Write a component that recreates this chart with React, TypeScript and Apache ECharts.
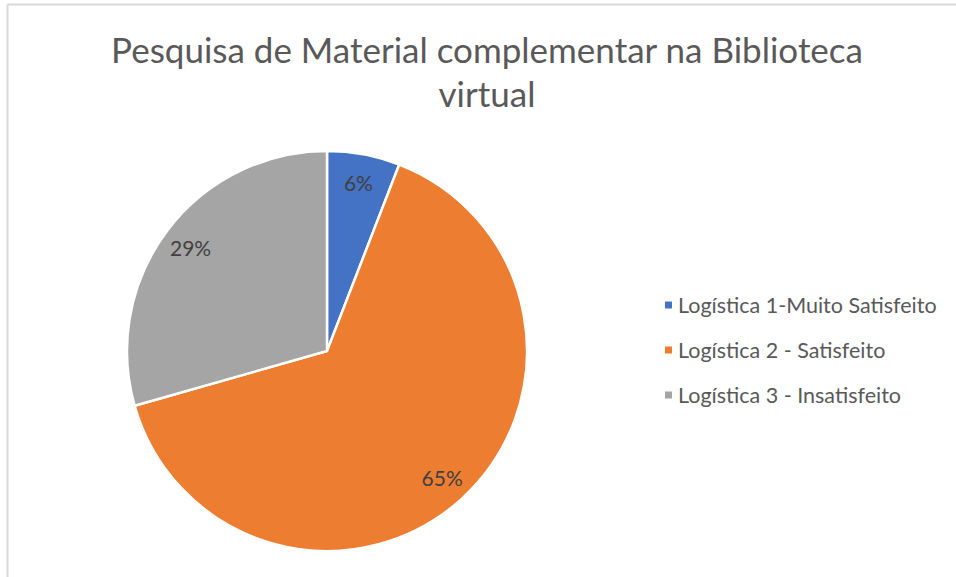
import React, { useEffect, useRef } from "react";
import * as echarts from "echarts";

const titleText = "Pesquisa de Material complementar na Biblioteca\nvirtual";
const categories = [
  "Logística 1-Muito Satisfeito",
  "Logística 2 - Satisfeito",
  "Logística 3 - Insatisfeito",
];
const values = [2, 22, 10];
const colors = ["#4472C4", "#ED7D31", "#A5A5A5"];

const FONT = "Lato";

export default function App() {
  const ref = useRef<HTMLDivElement>(null);
  useEffect(() => {
    if (!ref.current) return;
    const chart = echarts.init(ref.current, undefined, { renderer: "svg" });
    const data = categories.map((name, i) => ({
      name,
      value: values[i],
      itemStyle: { color: colors[i] },
    }));
    chart.setOption({
      animation: false,
      backgroundColor: "#ffffff",
      title: {
        text: titleText,
        left: 482,
        top: 22,
        textAlign: "center",
        textStyle: {
          fontFamily: FONT,
          fontSize: 35,
          fontWeight: "normal",
          color: "#595959",
          lineHeight: 44,
        },
      },
      legend: {
        orient: "vertical",
        left: 658,
        top: 289,
        itemWidth: 9,
        itemHeight: 9,
        itemGap: 23,
        icon: "rect",
        data: categories,
        textStyle: {
          fontFamily: FONT,
          fontSize: 21.5,
          color: "#595959",
        },
      },
      graphic: [
        {
          type: "line",
          shape: { x1: 7.5, y1: 4.5, x2: 956, y2: 4.5 },
          style: { stroke: "#D9D9D9", lineWidth: 2 },
          silent: true,
        },
        {
          type: "line",
          shape: { x1: 7.5, y1: 4.5, x2: 7.5, y2: 577 },
          style: { stroke: "#D9D9D9", lineWidth: 2 },
          silent: true,
        },
      ],
      series: [
        {
          type: "pie",
          center: [327, 351],
          radius: [0, 200],
          startAngle: 90,
          clockwise: true,
          data,
          label: { show: false },
          labelLine: { show: false },
          itemStyle: { borderColor: "#ffffff", borderWidth: 2.5 },
          emphasis: { disabled: true },
        },
        {
          type: "pie",
          center: [327, 351],
          radius: [136, 200],
          startAngle: 90,
          clockwise: true,
          silent: true,
          legendHoverLink: false,
          data: categories.map((name, i) => ({ name, value: values[i] })),
          itemStyle: { color: "rgba(0,0,0,0)" },
          label: {
            show: true,
            position: "inside",
            formatter: (p: any) => Math.round(p.percent) + "%",
            fontFamily: FONT,
            fontSize: 21,
            color: "#404040",
          },
          labelLine: { show: false },
          emphasis: { disabled: true },
        },
      ],
    });
    return () => chart.dispose();
  }, []);
  return (
    <div
      ref={ref}
      style={{ position: "fixed", left: 0, top: 0, width: 956, height: 577 }}
    />
  );
}
